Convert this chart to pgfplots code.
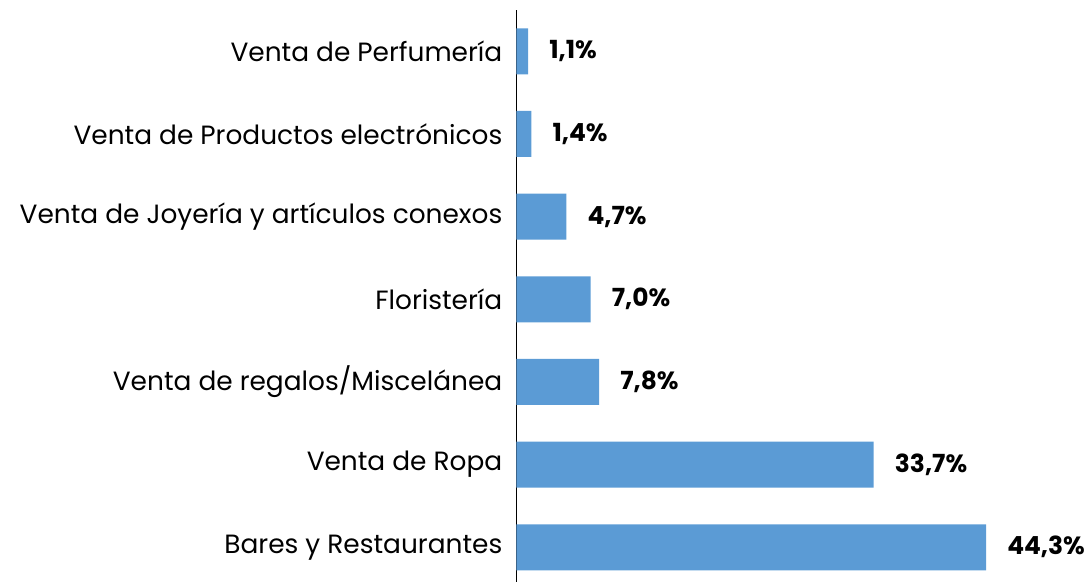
\documentclass[border=0pt]{standalone}
\usepackage{pgfplots}
\pgfplotsset{compat=1.18}
\usepackage{fontspec}
\setmainfont{Poppins}
\definecolor{barblue}{HTML}{5B9BD5}
\begin{document}
\begin{tikzpicture}[x=1bp,y=1bp]
\begin{axis}[
  at={(0,0)}, anchor=south west,
  scale only axis,
  width=530bp, height=572bp,
  xmin=0, xmax=50,
  ymin=-0.42, ymax=6.5,
  xbar, bar width=46bp,
  axis x line=none,
  axis y line*=left,
  y axis line style={line width=1.5pt, -},
  ytick={0,...,6},
  yticklabels={Bares y Restaurantes, Venta de Ropa, Venta de regalos/Miscelánea, Floristería, Venta de Joyería y artículos conexos, Venta de Productos electrónicos, Venta de Perfumería},
  major tick length=0pt,
  yticklabel style={font=\fontsize{26.5}{30}\selectfont, inner sep=0pt, xshift=-14bp},
  nodes near coords={\pgfplotspointmeta},
  point meta=explicit symbolic,
  nodes near coords style={font=\bfseries\fontsize{25}{29}\selectfont, anchor=west, inner sep=0pt, xshift=21bp},
  clip=false,
]
\addplot[fill=barblue, draw=none] table[meta=lab] {
x y lab
44.3 0 {44,3\%}
33.7 1 {33,7\%}
7.8 2 {7,8\%}
7.0 3 {7,0\%}
4.7 4 {4,7\%}
1.4 5 {1,4\%}
1.1 6 {1,1\%}
};
\end{axis}
\pgfresetboundingbox
\path (-516.5bp,0) rectangle (575.5bp,582bp);
\end{tikzpicture}
\end{document}
